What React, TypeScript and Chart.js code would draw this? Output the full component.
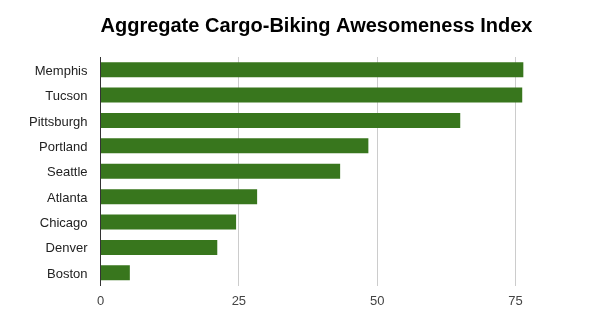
import React, { useEffect, useRef } from "react";
import { Chart, registerables } from "chart.js";

Chart.register(...registerables);

const titleText = "Aggregate Cargo-Biking Awesomeness Index";
const cities = ["Memphis", "Tucson", "Pittsburgh", "Portland", "Seattle", "Atlanta", "Chicago", "Denver", "Boston"];
const scores = [76.4, 76.2, 65.0, 48.4, 43.3, 28.3, 24.5, 21.1, 5.3];
const xMax = 87;
const tickStep = 25;

const titlePlugin = {
  id: "leftTitle",
  afterDraw(chart: any) {
    const ctx = chart.ctx;
    ctx.save();
    ctx.font = "bold 20px 'Liberation Sans', Arial, sans-serif";
    ctx.fillStyle = "#000000";
    ctx.textAlign = "left";
    ctx.textBaseline = "middle";
    ctx.fillText(titleText, chart.chartArea.left, 26);
    ctx.restore();
  },
};

export default function App() {
  const ref = useRef<HTMLCanvasElement | null>(null);
  useEffect(() => {
    if (!ref.current) return;
    const chart = new Chart(ref.current, {
      type: "bar",
      data: {
        labels: cities,
        datasets: [
          {
            data: scores,
            backgroundColor: "#38761d",
            borderWidth: 0,
            categoryPercentage: 1,
            barPercentage: 0.59,
          },
        ],
      },
      options: {
        indexAxis: "y",
        animation: false,
        responsive: false,
        layout: { padding: { top: 57, right: 18, left: 0, bottom: 0 } },
        plugins: { legend: { display: false }, title: { display: false }, tooltip: { enabled: false } },
        scales: {
          x: {
            min: 0,
            max: xMax,
            afterFit(scale: any) {
              scale.height = 49.5;
            },
            ticks: {
              stepSize: tickStep,
              padding: 8,
              color: "#444444",
              font: { family: "'Liberation Sans', Arial, sans-serif", size: 13 },
              callback: (v: any) => (Number(v) % tickStep === 0 ? String(v) : ""),
            },
            grid: {
              drawTicks: false,
              color: (c: any) =>
                c.tick && Number(c.tick.value) % tickStep === 0 && c.tick.value !== 0 ? "#cccccc" : "rgba(0,0,0,0)",
            },
            border: { display: false },
          },
          y: {
            afterFit(scale: any) {
              scale.width = 100.5;
            },
            ticks: {
              padding: 13,
              labelOffset: 1.5,
              color: "#222222",
              font: { family: "'Liberation Sans', Arial, sans-serif", size: 13 },
            },
            grid: { display: false, drawTicks: false },
            border: { display: true, color: "#333333", width: 1 },
          },
        },
      },
      plugins: [titlePlugin],
    });
    return () => chart.destroy();
  }, []);
  return (
    <div style={{ position: "fixed", left: 0, top: 0, width: 600, height: 335, background: "#fff" }}>
      <canvas ref={ref} width={600} height={335} style={{ width: 600, height: 335 }} />
    </div>
  );
}
